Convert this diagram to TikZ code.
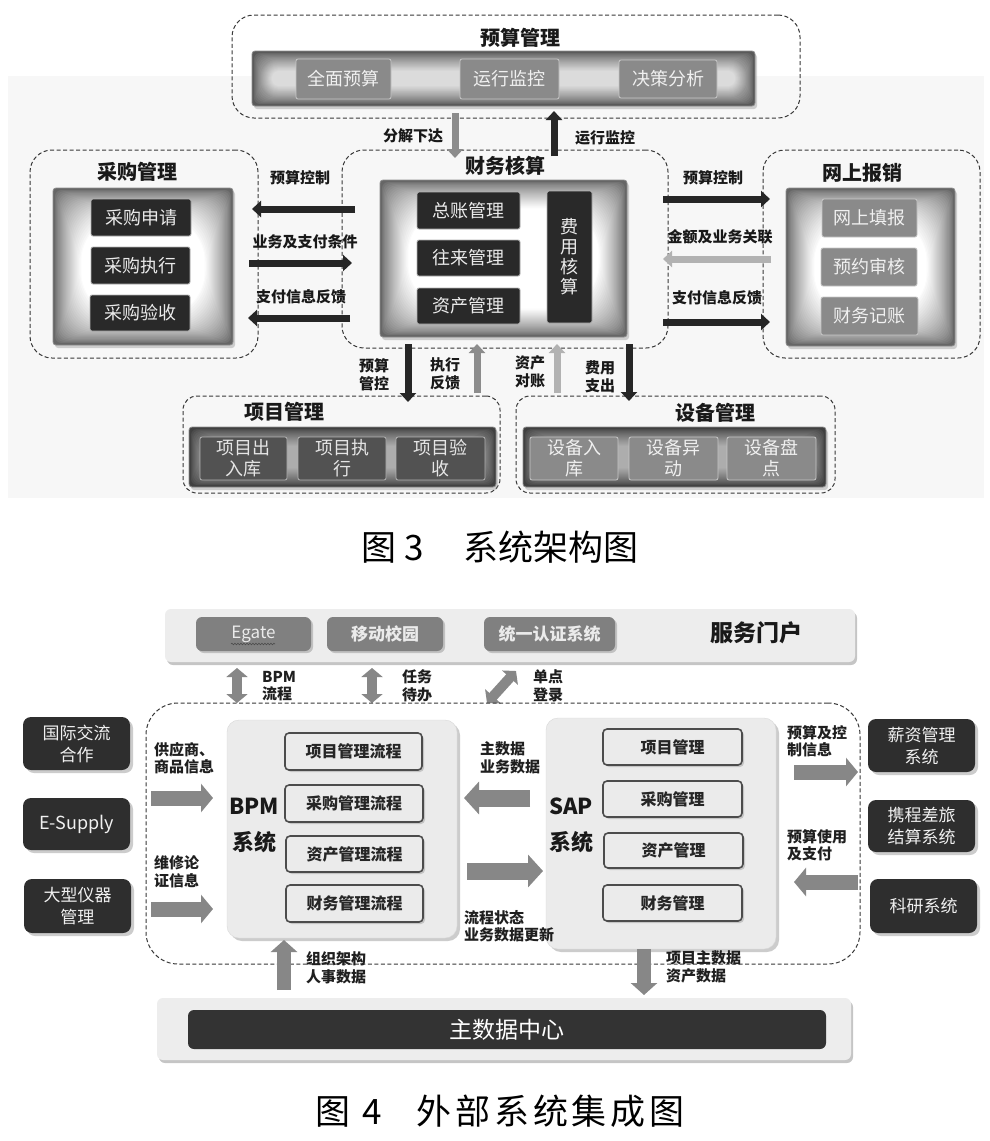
\documentclass[tikz,border=0pt]{standalone}
\usepackage{fontspec}
\setmainfont{Noto Sans CJK SC}
\usetikzlibrary{arrows.meta,shadows,decorations.pathmorphing}
\newcommand\mkbox[7]{\node[#2,minimum width={(#5)-(#3)},minimum height={(#6)-(#4)}] (#1) at ({((#3)+(#5))/2},{((#4)+(#6))/2}) {#7};}
\newcommand\fz[2]{\fontsize{#1}{#2}\selectfont}
% inner glow: x1 y1 x2 y2 steps stepsize outer-dark inner-dark
\newcommand\glow[8]{\foreach \gi in {0,...,#5}{%
  \pgfmathsetmacro\gc{#7-(#7-#8)*((\gi/#5)^0.75)}%
  \pgfmathsetmacro\gd{1+\gi*#6}%
  \pgfmathsetmacro\gr{min(3+1.6*\gd,0.45*min((#3)-(#1)-2*\gd,(#4)-(#2)-2*\gd))}%
  \fill[black!\gc,rounded corners=\gr pt] ({#1+\gd},{#2+\gd}) rectangle ({#3-\gd},{#4-\gd});}}
\tikzset{
  bx/.style={inner sep=0pt,align=center},
  dbox/.style={bx,draw=black!78,line width=1pt,dash pattern=on 4pt off 2.5pt,rounded corners=22pt},
  shd/.style={drop shadow={opacity=0.35,shadow xshift=2pt,shadow yshift=-3pt}},
  panel/.style={bx,draw=black!45,fill=black!60,line width=0.8pt,rounded corners=3pt,shd},
  darkbox/.style={bx,fill=black!84,draw=black!30,line width=0.8pt,rounded corners=2pt,text=black!8,font=\fz{18}{22}},
  graybox/.style={bx,fill=black!46,draw=black!22,line width=0.8pt,rounded corners=2pt,text=black!6,font=\fz{18}{22}},
  midbox/.style={bx,fill=black!68,draw=black!30,line width=0.8pt,rounded corners=2pt,text=black!10,font=\fz{18}{21}},
  ttl/.style={inner sep=0pt,font=\bfseries\fz{20}{24},text=black!90},
  lbl/.style={inner sep=0pt,font=\bfseries\fz{15}{18},text=black!90,align=center},
  darr/.style={draw=black!85,line width=7pt,-{Triangle[width=16pt,length=9pt]}},
  garr/.style={draw=black!45,line width=7pt,-{Triangle[width=16pt,length=9pt]}},
  larr/.style={draw=black!30,line width=7pt,-{Triangle[width=16pt,length=9pt]}},
  portal/.style={bx,fill=black!7,rounded corners=6pt,drop shadow={opacity=0.45,shadow xshift=2pt,shadow yshift=-3pt}},
  pbox/.style={bx,fill=black!50,rounded corners=6pt,text=black!8,font=\bfseries\fz{17}{20},drop shadow={opacity=0.4,shadow xshift=2pt,shadow yshift=-2pt}},
  ext/.style={bx,fill=black!82,rounded corners=8pt,text=black!6,font=\fz{17}{22},drop shadow={opacity=0.4,shadow xshift=3pt,shadow yshift=-3pt}},
  sysp/.style={bx,fill=black!8,draw=black!15,rounded corners=12pt,drop shadow={opacity=0.4,shadow xshift=3pt,shadow yshift=-3pt}},
  mbox/.style={bx,fill=black!8,draw=black!70,line width=1.6pt,rounded corners=4pt,text=black!85,font=\bfseries\fz{16}{20},drop shadow={opacity=0.35,shadow xshift=2pt,shadow yshift=-2pt}},
  sysl/.style={inner sep=0pt,font=\bfseries\fz{22}{26},text=black!90},
  blbl/.style={inner sep=0pt,anchor=west,font=\bfseries\fz{15}{17.5},text=black!88,align=left},
  fat/.style={draw=black!47,line width=17pt,-{Triangle[width=32pt,length=15pt]}},
  fatv/.style={draw=black!47,line width=14pt,-{Triangle[width=26pt,length=12pt]}},
  dbl/.style={draw=black!47,line width=10pt,{Triangle[width=21pt,length=9pt]}-{Triangle[width=21pt,length=9pt]}},
  capt/.style={inner sep=0pt,font=\fz{35}{40},text=black}
}
\begin{document}
\begin{tikzpicture}[x=1pt,y=-1pt]
\useasboundingbox (0,0) rectangle (990,1141);
\fill[white] (0,0) rectangle (990,1141);
% ================= Figure 3 =================
\fill[black!3] (8,76) rectangle (984,498);
% 预算管理
\mkbox{ysg}{dbox}{232}{15}{800}{118}{}
\node[ttl] (ysgt) at (520,38) {预算管理};
\mkbox{ysbar}{panel,fill=black!65}{252}{51}{755}{106}{}
\glow{252}{51}{755}{106}{20}{0.95}{65}{14}
\mkbox{qmys}{graybox}{296}{59}{391}{99}{全面预算}
\mkbox{yxjk}{graybox}{460}{59}{559}{99}{运行监控}
\mkbox{jcfx}{graybox}{619}{60}{717}{98}{决策分析}
% 财务核算
\mkbox{cwg}{dbox}{342}{150}{668}{348}{}
\node[ttl] (cwgt) at (505,166) {财务核算};
\mkbox{cwp}{panel}{380}{180}{627}{337}{}
\glow{380}{180}{627}{337}{26}{1.05}{60}{0}
\mkbox{zzgl}{darkbox}{417}{192}{520}{229}{总账管理}
\mkbox{wlgl}{darkbox}{417}{240}{520}{276}{往来管理}
\mkbox{zcgl}{darkbox}{417}{288}{520}{324}{资产管理}
\mkbox{fyhs}{darkbox,font=\fz{18}{20}}{547}{191}{592}{323}{费\\用\\核\\算}
% 采购管理
\mkbox{cgg}{dbox}{30}{150}{258}{358}{}
\node[ttl] (cggt) at (137,172) {采购管理};
\mkbox{cgp}{panel}{53}{188}{233}{345}{}
\glow{53}{188}{233}{345}{26}{1.05}{60}{0}
\mkbox{cgsq}{darkbox}{91}{199}{191}{236}{采购申请}
\mkbox{cgzx}{darkbox}{91}{247}{190}{284}{采购执行}
\mkbox{cgys}{darkbox}{90}{295}{190}{331}{采购验收}
% 网上报销
\mkbox{wsg}{dbox}{763}{150}{980}{358}{}
\node[ttl] (wsgt) at (862,173) {网上报销};
\mkbox{wsp}{panel}{786}{188}{955}{346}{}
\glow{786}{188}{955}{346}{26}{1.05}{60}{0}
\mkbox{wstb}{graybox}{822}{199}{917}{237}{网上填报}
\mkbox{yysh}{graybox}{821}{248}{917}{286}{预约审核}
\mkbox{cwjz}{graybox}{821}{297}{918}{335}{财务记账}
% 项目管理
\mkbox{xmg}{dbox,rounded corners=14pt}{183}{396}{500}{493}{}
\node[ttl] (xmgt) at (284,412) {项目管理};
\mkbox{xmbar}{panel,fill=black!75}{189}{427}{496}{487}{}
\glow{189}{427}{496}{487}{18}{1.0}{75}{32}
\mkbox{xmcr}{midbox}{200}{437}{287}{480}{项目出\\入库}
\mkbox{xmzx}{midbox}{298}{437}{386}{480}{项目执\\行}
\mkbox{xmys}{midbox}{396}{437}{485}{480}{项目验\\收}
% 设备管理
\mkbox{sbg}{dbox,rounded corners=14pt}{516}{396}{835}{493}{}
\node[ttl] (sbgt) at (715,413) {设备管理};
\mkbox{sbbar}{panel,fill=black!75}{523}{427}{826}{487}{}
\glow{523}{427}{826}{487}{18}{1.0}{75}{32}
\mkbox{sbrk}{graybox,font=\fz{18}{21}}{530}{437}{618}{480}{设备入\\库}
\mkbox{sbyd}{graybox,font=\fz{18}{21}}{629}{437}{718}{480}{设备异\\动}
\mkbox{sbpd}{graybox,font=\fz{18}{21}}{727}{437}{816}{480}{设备盘\\点}
% arrows fig 3
\coordinate (a1s) at (355,209); \coordinate (a1e) at (252,209);
\coordinate (a2s) at (249,263); \coordinate (a2e) at (352,263);
\coordinate (a3s) at (350,318); \coordinate (a3e) at (248,318);
\coordinate (a4s) at (663,199); \coordinate (a4e) at (770,199);
\coordinate (a5s) at (771,259); \coordinate (a5e) at (663,259);
\coordinate (a6s) at (663,322); \coordinate (a6e) at (770,322);
\coordinate (a7s) at (455,113); \coordinate (a7e) at (455,158);
\coordinate (a8s) at (554,156); \coordinate (a8e) at (554,111);
\coordinate (a9s) at (408,344); \coordinate (a9e) at (408,402);
\coordinate (a10s) at (477,393); \coordinate (a10e) at (477,344);
\coordinate (a11s) at (557,393); \coordinate (a11e) at (557,344);
\coordinate (a12s) at (629,344); \coordinate (a12e) at (629,401);
\draw[darr] (a1s) -- (a1e);
\draw[darr] (a2s) -- (a2e);
\draw[darr] (a3s) -- (a3e);
\draw[darr] (a4s) -- (a4e);
\draw[larr] (a5s) -- (a5e);
\draw[darr] (a6s) -- (a6e);
\draw[garr] (a7s) -- (a7e);
\draw[darr] (a8s) -- (a8e);
\draw[darr] (a9s) -- (a9e);
\draw[garr] (a10s) -- (a10e);
\draw[larr] (a11s) -- (a11e);
\draw[darr] (a12s) -- (a12e);
\node[lbl] (l1) at (300,178) {预算控制};
\node[lbl] (l2) at (305,242) {业务及支付条件};
\node[lbl] (l3) at (301,297) {支付信息反馈};
\node[lbl] (l4) at (713,178) {预算控制};
\node[lbl] (l5) at (720,237) {金额及业务关联};
\node[lbl] (l6) at (717,298) {支付信息反馈};
\node[lbl] (l7) at (413,136) {分解下达};
\node[lbl] (l8) at (605,138) {运行监控};
\node[lbl] (l9) at (374,375) {预算\\管控};
\node[lbl] (l10) at (445,374) {执行\\反馈};
\node[lbl] (l11) at (530,372) {资产\\对账};
\node[lbl] (l12) at (600,377) {费用\\支出};
\node[capt] (cap3) at (500,547) {图 3\hspace{1.15em}系统架构图};
% ================= Figure 4 =================
\mkbox{portal}{portal}{165}{609}{855}{662}{}
\mkbox{egate}{pbox,font=\fz{17}{20}}{196}{617}{311}{651}{Egate}
\draw[black!70,line width=0.6pt,decorate,decoration={snake,amplitude=0.8pt,segment length=3pt}] (231,644) -- (275,644);
\mkbox{ydxy}{pbox}{327}{617}{443}{651}{移动校园}
\mkbox{tyrz}{pbox}{484}{617}{615}{651}{统一认证系统}
\node[sysl,font=\bfseries\fz{23}{26}] (fwmh) at (756,633) {服务门户};
\coordinate (d1a) at (237,668); \coordinate (d1b) at (237,703);
\coordinate (d2a) at (372,668); \coordinate (d2b) at (372,703);
\coordinate (d3a) at (487,703); \coordinate (d3b) at (516,671);
\draw[dbl] (d1a) -- (d1b);
\draw[dbl] (d2a) -- (d2b);
\draw[dbl] (d3a) -- (d3b);
\node[blbl] (lb1) at (262,686) {BPM\\流程};
\node[blbl] (lb2) at (402,686) {任务\\待办};
\node[blbl] (lb3) at (533,686) {单点\\登录};
\mkbox{big}{dbox,rounded corners=32pt}{146}{703}{860}{964}{}
\mkbox{bpm}{sysp}{227}{720}{457}{938}{}
\node[sysl] (bpmt) at (254,806) {BPM};
\node[sysl] (bpms) at (254,842) {系统};
\mkbox{bp1}{mbox}{285}{733}{422}{770}{项目管理流程}
\mkbox{bp2}{mbox}{285}{785}{423}{822}{采购管理流程}
\mkbox{bp3}{mbox}{286}{836}{423}{872}{资产管理流程}
\mkbox{bp4}{mbox}{286}{885}{423}{922}{财务管理流程}
\mkbox{sap}{sysp}{546}{718}{776}{949}{}
\node[sysl] (sapt) at (571,806) {SAP};
\node[sysl] (saps) at (571,842) {系统};
\mkbox{sp1}{mbox}{603}{729}{742}{765}{项目管理}
\mkbox{sp2}{mbox}{603}{781}{742}{817}{采购管理}
\mkbox{sp3}{mbox}{604}{833}{743}{868}{资产管理}
\mkbox{sp4}{mbox}{603}{885}{742}{921}{财务管理}
\mkbox{gjjl}{ext}{23}{717}{130}{770}{国际交流\\合作}
\mkbox{esup}{ext,font=\fz{18}{22}}{23}{798}{130}{850}{E-Supply}
\mkbox{dxyq}{ext}{24}{879}{131}{933}{大型仪器\\管理}
\mkbox{xzgl}{ext}{868}{719}{975}{772}{薪资管理\\系统}
\mkbox{xccl}{ext}{868}{800}{975}{852}{携程差旅\\结算系统}
\mkbox{kyxt}{ext}{870}{879}{977}{933}{科研系统}
\mkbox{mdo}{portal}{157}{998}{851}{1060}{}
\mkbox{mdc}{bx,fill=black!80,rounded corners=6pt,text=white,font=\fz{23}{26}}{188}{1010}{826}{1049}{主数据中心}
\coordinate (f1s) at (530,798); \coordinate (f1e) at (464,798);
\coordinate (f2s) at (467,871); \coordinate (f2e) at (543,871);
\coordinate (f3s) at (151,798); \coordinate (f3e) at (213,798);
\coordinate (f4s) at (151,909); \coordinate (f4e) at (213,909);
\coordinate (f5s) at (794,772); \coordinate (f5e) at (858,772);
\coordinate (f6s) at (858,882); \coordinate (f6e) at (794,882);
\coordinate (f7s) at (284,990); \coordinate (f7e) at (284,940);
\coordinate (f8s) at (644,949); \coordinate (f8e) at (644,995);
\draw[fat] (f1s) -- (f1e);
\draw[fat] (f2s) -- (f2e);
\draw[fat,line width=15pt,-{Triangle[width=28pt,length=12pt]}] (f3s) -- (f3e);
\draw[fat,line width=15pt,-{Triangle[width=28pt,length=12pt]}] (f4s) -- (f4e);
\draw[fat,line width=15pt,-{Triangle[width=28pt,length=12pt]}] (f5s) -- (f5e);
\draw[fat,line width=15pt,-{Triangle[width=28pt,length=12pt]}] (f6s) -- (f6e);
\draw[fatv] (f7s) -- (f7e);
\draw[fatv] (f8s) -- (f8e);
\node[blbl] (lf1) at (480,758) {主数据\\业务数据};
\node[blbl] (lf2) at (464,926) {流程状态\\业务数据更新};
\node[blbl] (lf3) at (154,758) {供应商、\\商品信息};
\node[blbl] (lf4) at (154,872) {维修论\\证信息};
\node[blbl] (lf5) at (787,741) {预算及控\\制信息};
\node[blbl] (lf6) at (787,845) {预算使用\\及支付};
\node[blbl] (lf7) at (306,968) {组织架构\\人事数据};
\node[blbl] (lf8) at (666,967) {项目主数据\\资产数据};
\node[capt] (cap4) at (500,1111) {\addfontfeatures{LetterSpace=11}图 4\hspace{1em}外部系统集成图};
\end{tikzpicture}
\end{document}
